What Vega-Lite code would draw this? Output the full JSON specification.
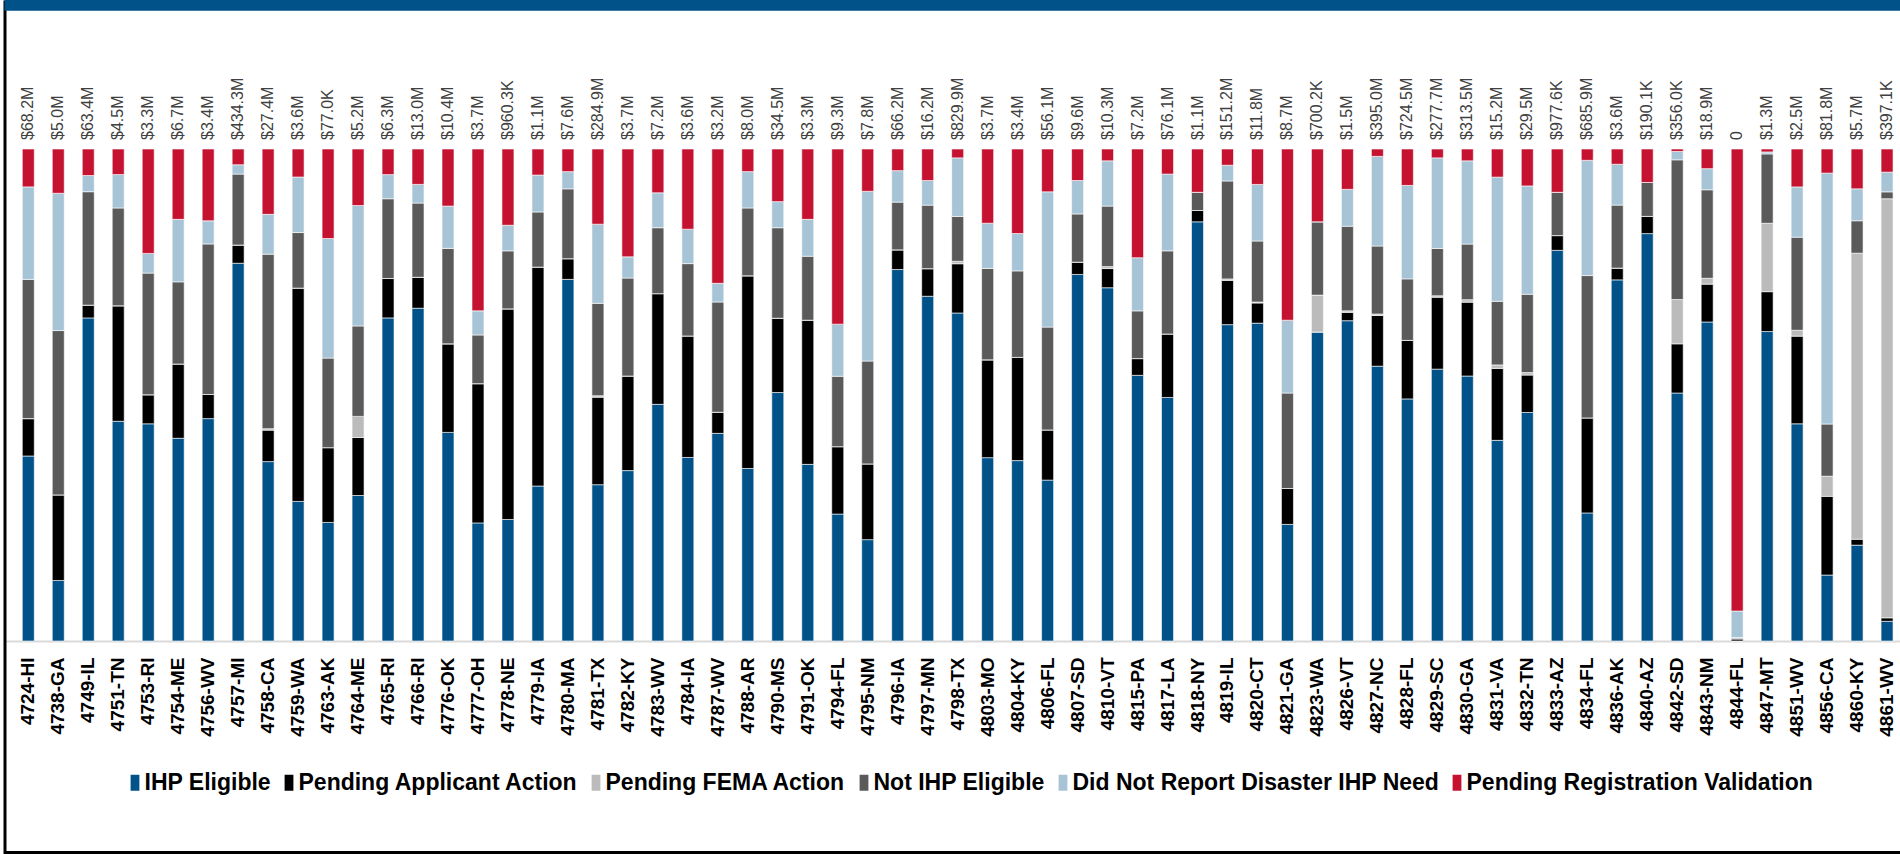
{
  "$schema": "https://vega.github.io/schema/vega-lite/v6.json",
  "autosize": "none",
  "padding": {"left": 4.5, "top": 0, "right": 0, "bottom": 0},
  "width": 1895.5,
  "height": 854,
  "background": "#ffffff",
  "config": {
    "view": {"stroke": null},
    "font": "Liberation Sans",
    "axisX": {
      "orient": "bottom", "offset": -213, "ticks": false, "grid": false,
      "domainColor": "#d9d9d9", "domainWidth": 2, "zindex": 1,
      "labelAngle": -90, "labelFont": "Liberation Sans", "labelFontSize": 19,
      "labelFontWeight": "bold", "labelColor": "#000000", "labelPadding": 16,
      "labelOverlap": false, "labelLimit": 300
    },
    "axisY": {
      "orient": "left", "domain": true, "domainColor": "#000000", "domainWidth": 3,
      "ticks": false, "labels": false, "grid": false, "zindex": 2
    }
  },
  "datasets": {
    "ord": [
      {"k": "a", "Status": "IHP Eligible", "o": 1},
      {"k": "b", "Status": "Pending Applicant Action", "o": 2},
      {"k": "c", "Status": "Pending FEMA Action", "o": 3},
      {"k": "d", "Status": "Not IHP Eligible", "o": 4},
      {"k": "e", "Status": "Did Not Report Disaster IHP Need", "o": 5},
      {"k": "f", "Status": "Pending Registration Validation", "o": 6}
    ],
    "main": [
      {"dr": "4724-HI", "amt": "$68.2M", "a": 37.6, "b": 7.6, "c": 0, "d": 28.3, "e": 18.8, "f": 7.7},
      {"dr": "4738-GA", "amt": "$5.0M", "a": 12.3, "b": 17.4, "c": 0, "d": 33.4, "e": 27.9, "f": 9.0},
      {"dr": "4749-IL", "amt": "$63.4M", "a": 65.8, "b": 2.6, "c": 0, "d": 23.1, "e": 3.3, "f": 5.4},
      {"dr": "4751-TN", "amt": "$4.5M", "a": 44.7, "b": 23.5, "c": 0, "d": 19.9, "e": 6.8, "f": 5.2},
      {"dr": "4753-RI", "amt": "$3.3M", "a": 44.1, "b": 5.9, "c": 0, "d": 24.7, "e": 4.0, "f": 21.2},
      {"dr": "4754-ME", "amt": "$6.7M", "a": 41.2, "b": 15.1, "c": 0, "d": 16.7, "e": 12.7, "f": 14.3},
      {"dr": "4756-WV", "amt": "$3.4M", "a": 45.2, "b": 4.9, "c": 0, "d": 30.6, "e": 4.7, "f": 14.6},
      {"dr": "4757-MI", "amt": "$434.3M", "a": 76.7, "b": 3.7, "c": 0, "d": 14.4, "e": 1.9, "f": 3.2},
      {"dr": "4758-CA", "amt": "$27.4M", "a": 36.5, "b": 6.4, "c": 0.3, "d": 35.5, "e": 8.1, "f": 13.3},
      {"dr": "4759-WA", "amt": "$3.6M", "a": 28.4, "b": 43.4, "c": 0, "d": 11.3, "e": 11.3, "f": 5.7},
      {"dr": "4763-AK", "amt": "$77.0K", "a": 24.1, "b": 15.2, "c": 0, "d": 18.2, "e": 24.3, "f": 18.2},
      {"dr": "4764-ME", "amt": "$5.2M", "a": 29.6, "b": 11.8, "c": 4.3, "d": 18.4, "e": 24.5, "f": 11.5},
      {"dr": "4765-RI", "amt": "$6.3M", "a": 65.6, "b": 8.0, "c": 0, "d": 16.2, "e": 4.9, "f": 5.2},
      {"dr": "4766-RI", "amt": "$13.0M", "a": 67.7, "b": 6.3, "c": 0, "d": 15.1, "e": 3.8, "f": 7.2},
      {"dr": "4776-OK", "amt": "$10.4M", "a": 42.4, "b": 18.0, "c": 0, "d": 19.4, "e": 8.6, "f": 11.6},
      {"dr": "4777-OH", "amt": "$3.7M", "a": 24.0, "b": 28.3, "c": 0, "d": 9.9, "e": 4.9, "f": 32.9},
      {"dr": "4778-NE", "amt": "$960.3K", "a": 24.7, "b": 42.8, "c": 0, "d": 11.8, "e": 5.2, "f": 15.5},
      {"dr": "4779-IA", "amt": "$1.1M", "a": 31.5, "b": 44.5, "c": 0, "d": 11.2, "e": 7.5, "f": 5.3},
      {"dr": "4780-MA", "amt": "$7.6M", "a": 73.5, "b": 4.2, "c": 0, "d": 14.2, "e": 3.5, "f": 4.6},
      {"dr": "4781-TX", "amt": "$284.9M", "a": 31.8, "b": 17.8, "c": 0.3, "d": 18.8, "e": 16.1, "f": 15.3},
      {"dr": "4782-KY", "amt": "$3.7M", "a": 34.6, "b": 19.2, "c": 0, "d": 19.9, "e": 4.3, "f": 21.9},
      {"dr": "4783-WV", "amt": "$7.2M", "a": 48.1, "b": 22.5, "c": 0, "d": 13.4, "e": 7.1, "f": 8.9},
      {"dr": "4784-IA", "amt": "$3.6M", "a": 37.3, "b": 24.7, "c": 0, "d": 14.7, "e": 7.0, "f": 16.3},
      {"dr": "4787-WV", "amt": "$3.2M", "a": 42.2, "b": 4.3, "c": 0, "d": 22.4, "e": 3.8, "f": 27.3},
      {"dr": "4788-AR", "amt": "$8.0M", "a": 35.1, "b": 39.2, "c": 0, "d": 13.8, "e": 7.4, "f": 4.6},
      {"dr": "4790-MS", "amt": "$34.5M", "a": 50.5, "b": 15.1, "c": 0, "d": 18.4, "e": 5.3, "f": 10.7},
      {"dr": "4791-OK", "amt": "$3.3M", "a": 35.9, "b": 29.3, "c": 0, "d": 13.0, "e": 7.5, "f": 14.3},
      {"dr": "4794-FL", "amt": "$9.3M", "a": 25.8, "b": 13.7, "c": 0, "d": 14.3, "e": 10.6, "f": 35.6},
      {"dr": "4795-NM", "amt": "$7.8M", "a": 20.6, "b": 15.4, "c": 0, "d": 20.9, "e": 34.5, "f": 8.6},
      {"dr": "4796-IA", "amt": "$66.2M", "a": 75.5, "b": 4.0, "c": 0, "d": 9.7, "e": 6.4, "f": 4.4},
      {"dr": "4797-MN", "amt": "$16.2M", "a": 70.0, "b": 5.6, "c": 0, "d": 12.9, "e": 5.0, "f": 6.4},
      {"dr": "4798-TX", "amt": "$829.9M", "a": 66.6, "b": 10.0, "c": 0.5, "d": 9.1, "e": 11.9, "f": 1.8},
      {"dr": "4803-MO", "amt": "$3.7M", "a": 37.3, "b": 19.9, "c": 0, "d": 18.6, "e": 9.2, "f": 15.1},
      {"dr": "4804-KY", "amt": "$3.4M", "a": 36.7, "b": 21.0, "c": 0, "d": 17.6, "e": 7.6, "f": 17.2},
      {"dr": "4806-FL", "amt": "$56.1M", "a": 32.7, "b": 10.2, "c": 0, "d": 20.9, "e": 27.5, "f": 8.7},
      {"dr": "4807-SD", "amt": "$9.6M", "a": 74.5, "b": 2.5, "c": 0, "d": 9.8, "e": 6.8, "f": 6.4},
      {"dr": "4810-VT", "amt": "$10.3M", "a": 71.8, "b": 3.9, "c": 0.4, "d": 12.3, "e": 9.2, "f": 2.4},
      {"dr": "4815-PA", "amt": "$7.2M", "a": 54.0, "b": 3.4, "c": 0, "d": 9.7, "e": 10.8, "f": 22.1},
      {"dr": "4817-LA", "amt": "$76.1M", "a": 49.5, "b": 12.9, "c": 0, "d": 16.9, "e": 15.6, "f": 5.1},
      {"dr": "4818-NY", "amt": "$1.1M", "a": 85.2, "b": 2.3, "c": 0, "d": 3.7, "e": 0, "f": 8.8},
      {"dr": "4819-IL", "amt": "$151.2M", "a": 64.3, "b": 9.0, "c": 0.3, "d": 19.9, "e": 3.2, "f": 3.3},
      {"dr": "4820-CT", "amt": "$11.8M", "a": 64.6, "b": 4.1, "c": 0.2, "d": 12.4, "e": 11.5, "f": 7.2},
      {"dr": "4821-GA", "amt": "$8.7M", "a": 23.7, "b": 7.3, "c": 0, "d": 19.4, "e": 14.8, "f": 34.8},
      {"dr": "4823-WA", "amt": "$700.2K", "a": 62.8, "b": 0, "c": 7.5, "d": 14.9, "e": 0, "f": 14.8},
      {"dr": "4826-VT", "amt": "$1.5M", "a": 65.1, "b": 1.7, "c": 0.3, "d": 17.2, "e": 7.5, "f": 8.2},
      {"dr": "4827-NC", "amt": "$395.0M", "a": 55.8, "b": 10.3, "c": 0.3, "d": 13.8, "e": 18.2, "f": 1.5},
      {"dr": "4828-FL", "amt": "$724.5M", "a": 49.2, "b": 11.9, "c": 0, "d": 12.5, "e": 19.0, "f": 7.4},
      {"dr": "4829-SC", "amt": "$277.7M", "a": 55.2, "b": 14.6, "c": 0.3, "d": 9.6, "e": 18.4, "f": 1.8},
      {"dr": "4830-GA", "amt": "$313.5M", "a": 53.8, "b": 15.0, "c": 0.5, "d": 11.3, "e": 16.9, "f": 2.4},
      {"dr": "4831-VA", "amt": "$15.2M", "a": 40.7, "b": 14.6, "c": 0.7, "d": 12.9, "e": 25.2, "f": 5.7},
      {"dr": "4832-TN", "amt": "$29.5M", "a": 46.4, "b": 7.6, "c": 0.5, "d": 15.9, "e": 22.0, "f": 7.5},
      {"dr": "4833-AZ", "amt": "$977.6K", "a": 79.4, "b": 3.0, "c": 0, "d": 8.8, "e": 0, "f": 8.8},
      {"dr": "4834-FL", "amt": "$685.9M", "a": 26.0, "b": 19.3, "c": 0, "d": 28.9, "e": 23.4, "f": 2.3},
      {"dr": "4836-AK", "amt": "$3.6M", "a": 73.4, "b": 2.4, "c": 0, "d": 12.8, "e": 8.3, "f": 3.1},
      {"dr": "4840-AZ", "amt": "$190.1K", "a": 82.8, "b": 3.5, "c": 0, "d": 6.9, "e": 0, "f": 6.8},
      {"dr": "4842-SD", "amt": "$356.0K", "a": 50.4, "b": 10.0, "c": 9.0, "d": 28.4, "e": 1.7, "f": 0.5},
      {"dr": "4843-NM", "amt": "$18.9M", "a": 64.9, "b": 7.7, "c": 1.2, "d": 18.0, "e": 4.3, "f": 4.0},
      {"dr": "4844-FL", "amt": "0", "a": 0, "b": 0.4, "c": 0.3, "d": 0, "e": 5.4, "f": 94.0},
      {"dr": "4847-MT", "amt": "$1.3M", "a": 62.9, "b": 8.1, "c": 13.9, "d": 14.1, "e": 0.4, "f": 0.6},
      {"dr": "4851-WV", "amt": "$2.5M", "a": 44.1, "b": 17.8, "c": 1.2, "d": 18.9, "e": 10.2, "f": 7.7},
      {"dr": "4856-CA", "amt": "$81.8M", "a": 13.4, "b": 16.0, "c": 4.1, "d": 10.6, "e": 51.0, "f": 4.9},
      {"dr": "4860-KY", "amt": "$5.7M", "a": 19.5, "b": 1.2, "c": 58.2, "d": 6.6, "e": 6.5, "f": 8.1},
      {"dr": "4861-WV", "amt": "$397.1K", "a": 4.0, "b": 0.7, "c": 85.1, "d": 1.4, "e": 4.0, "f": 4.7}
    ]
  },
  "layer": [
    {
      "data": {"name": "main"},
      "transform": [
        {"fold": ["a", "b", "c", "d", "e", "f"], "as": ["k", "Pct"]},
        {"lookup": "k", "from": {"data": {"name": "ord"}, "key": "k", "fields": ["Status", "o"]}}
      ],
      "mark": {"type": "bar", "stroke": "#ffffff", "strokeWidth": 0.6},
      "encoding": {
        "x": {
          "field": "dr", "type": "nominal", "title": null,
          "scale": {"paddingInner": 0.6, "paddingOuter": 0.4125, "align": 0.719}
        },
        "y": {
          "field": "Pct", "type": "quantitative", "stack": "normalize", "title": null,
          "scale": {"domain": [-0.432927, 1.302846], "nice": false, "zero": false}
        },
        "color": {
          "field": "Status", "type": "nominal",
          "scale": {
            "domain": ["IHP Eligible", "Pending Applicant Action", "Pending FEMA Action", "Not IHP Eligible", "Did Not Report Disaster IHP Need", "Pending Registration Validation"],
            "range": ["#005288", "#000000", "#bbbbbc", "#5a5a5a", "#a7c4d7", "#c41230"]
          },
          "legend": {
            "orient": "none", "legendX": 119, "legendY": 771, "direction": "horizontal", "columns": 6,
            "title": null, "padding": 0,
            "labelFont": "Liberation Sans", "labelFontSize": 23, "labelFontWeight": "bold",
            "labelColor": "#000000", "labelLimit": 600, "labelOffset": -2,
            "symbolType": "M-0.55,-1H0.55V1H-0.55Z", "symbolSize": 256, "symbolStrokeWidth": 0,
            "columnPadding": 6
          }
        },
        "order": {"field": "o", "type": "quantitative"}
      }
    },
    {
      "data": {"name": "main"},
      "mark": {"type": "text", "angle": 270, "align": "left", "baseline": "middle", "dx": 9, "font": "Liberation Sans", "fontSize": 16, "color": "#404040"},
      "encoding": {
        "x": {"field": "dr", "type": "nominal", "title": null},
        "y": {"datum": 1, "type": "quantitative", "title": null},
        "text": {"field": "amt", "type": "nominal"}
      }
    },
    {
      "data": {"values": [{}]},
      "mark": {"type": "rect", "color": "#005288"},
      "encoding": {
        "y": {"datum": 1.2811, "type": "quantitative", "title": null},
        "y2": {"datum": 1.32}
      }
    },
    {
      "data": {"values": [{}]},
      "mark": {"type": "rule", "color": "#000000", "strokeWidth": 3},
      "encoding": {
        "y": {"datum": -0.429878, "type": "quantitative", "title": null}
      }
    }
  ]
}
